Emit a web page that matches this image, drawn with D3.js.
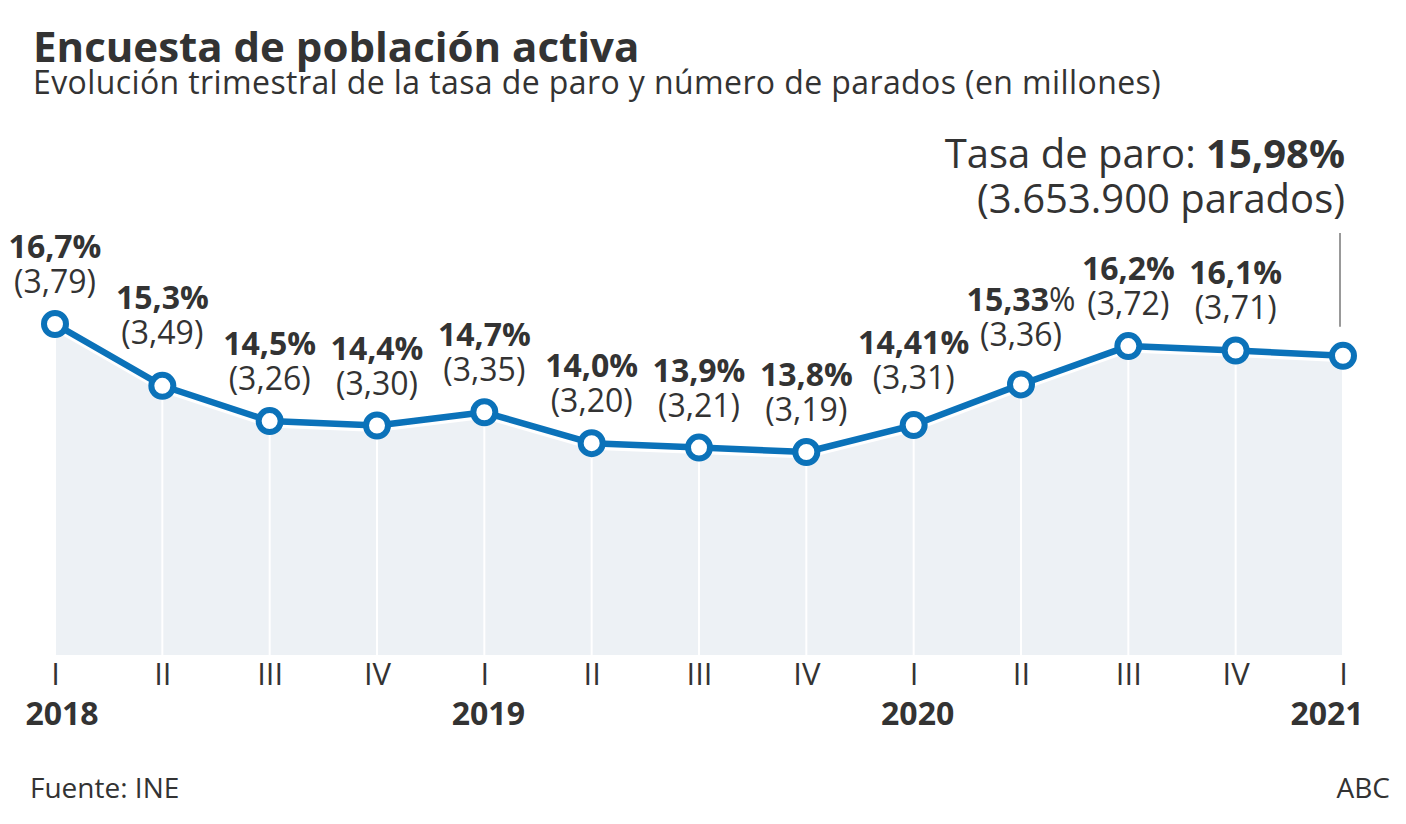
<!DOCTYPE html>
<meta charset="utf-8">
<script src="https://d3js.org/d3.v7.min.js"></script>
<style>
  body { margin: 0; background: #fff; }
  text { font-family: "Open Sans", sans-serif; fill: #333; }
</style>
<div id="chart"></div>
<script>

// quarters shown on the axis
var quarters = ["I", "II", "III", "IV", "I", "II", "III", "IV", "I", "II", "III", "IV", "I"];
var years = ["2018", "", "", "", "2019", "", "", "", "2020", "", "", "", "2021"];

// unemployment rate (%) and unemployed people (millions)
var rate = [16.7, 15.3, 14.5, 14.4, 14.7, 14.0, 13.9, 13.8, 14.41, 15.33, 16.2, 16.1, 15.98];
var rateLabels = ["16,7", "15,3", "14,5", "14,4", "14,7", "14,0", "13,9", "13,8", "14,41", "15,33", "16,2", "16,1", ""];
var paradosLabels = ["(3,79)", "(3,49)", "(3,26)", "(3,30)", "(3,35)", "(3,20)", "(3,21)", "(3,19)", "(3,31)", "(3,36)", "(3,72)", "(3,71)", ""];

var width = 1406, height = 824;

var svg = d3.select("#chart")
  .append("svg")
    .attr("width", width)
    .attr("height", height);

var idx = d3.range(rate.length);

var x = d3.scalePoint()
  .domain(idx)
  .range([55, 1343]);

var y = d3.scaleLinear()
  .domain([9.2, 16.7])
  .range([655, 324]);

// header
svg.append("text")
  .attr("x", 33).attr("y", 62)
  .style("font-size", "42px").style("font-weight", 700)
  .text("Encuesta de población activa");

svg.append("text")
  .attr("x", 33).attr("y", 94)
  .style("font-size", "32px")
  .style("letter-spacing", "0.4px")
  .text("Evolución trimestral de la tasa de paro y número de parados (en millones)");

// area under the line
var area = d3.area()
  .x(function(d) { return x(d); })
  .y0(y.range()[0])
  .y1(function(d) { return y(rate[d]); });

svg.append("path")
  .datum(idx)
  .attr("d", area)
  .style("fill", "#edf1f5");

// white vertical guides
svg.selectAll(".guide")
  .data(idx)
  .enter()
  .append("line")
    .attr("class", "guide")
    .attr("x1", function(d) { return x(d); })
    .attr("x2", function(d) { return x(d); })
    .attr("y1", function(d) { return y(rate[d]); })
    .attr("y2", y.range()[0])
    .style("stroke", "#fff")
    .style("stroke-width", 2);

var line = d3.line()
  .x(function(d) { return x(d); })
  .y(function(d) { return y(rate[d]); });

// soft white edge under the line
svg.append("path")
  .datum(idx)
  .attr("d", line)
  .attr("transform", "translate(0,4)")
  .style("fill", "none")
  .style("stroke", "#fff")
  .style("stroke-width", 5);

svg.append("path")
  .datum(idx)
  .attr("d", line)
  .style("fill", "none")
  .style("stroke", "#0b72b9")
  .style("stroke-width", 6.5)
  .style("stroke-linejoin", "round");

svg.selectAll(".dot")
  .data(idx)
  .enter()
  .append("circle")
    .attr("class", "dot")
    .attr("cx", function(d) { return x(d); })
    .attr("cy", function(d) { return y(rate[d]); })
    .attr("r", 11)
    .style("fill", "#fff")
    .style("stroke", "#0b72b9")
    .style("stroke-width", 6);

// a few labels are lifted by hand to keep clear of the line
var lift = { 1: 11, 8: 5, 9: 7 };

var labels = svg.selectAll(".lab")
  .data(idx.filter(function(d) { return rateLabels[d] !== ""; }))
  .enter()
  .append("g")
    .attr("class", "lab");

var pct = labels.append("text")
  .attr("x", function(d) { return x(d); })
  .attr("y", function(d) { return y(rate[d]) - 66 - (lift[d] || 0); })
  .attr("text-anchor", "middle")
  .style("font-size", "32px").style("font-weight", 700);
pct.append("tspan").text(function(d) { return rateLabels[d]; });
pct.append("tspan")
  .style("font-weight", function(d) { return d === 9 ? 400 : 700; })
  .text("%");

labels.append("text")
  .attr("x", function(d) { return x(d); })
  .attr("y", function(d) { return y(rate[d]) - 31 - (lift[d] || 0); })
  .attr("text-anchor", "middle")
  .style("font-size", "32px")
  .text(function(d) { return paradosLabels[d]; });

// annotation for the latest quarter
var last = rate.length - 1;
svg.append("line")
  .attr("x1", x(last) - 3).attr("x2", x(last) - 3)
  .attr("y1", 233).attr("y2", y(rate[last]) - 29)
  .style("stroke", "#999")
  .style("stroke-width", 2);

var ann = svg.append("text")
  .attr("x", 1345).attr("y", 168)
  .attr("text-anchor", "end")
  .style("font-size", "40px");
ann.append("tspan").text("Tasa de paro: ");
ann.append("tspan").style("font-weight", 700).text("15,98%");

svg.append("text")
  .attr("x", 1345).attr("y", 213)
  .attr("text-anchor", "end")
  .style("font-size", "40px")
  .text("(3.653.900 parados)");

// axis
var axis = svg.append("g")
  .attr("transform", "translate(0," + y.range()[0] + ")")
  .call(d3.axisBottom(x).tickSize(0).tickPadding(8).tickFormat(function(d) { return quarters[d]; }));
axis.select(".domain").remove();
axis.selectAll("text")
  .style("font-size", "31px")
  .style("font-family", "'Open Sans', sans-serif")
  .style("fill", "#333");

svg.selectAll(".year")
  .data(idx.filter(function(d) { return years[d] !== ""; }))
  .enter()
  .append("text")
    .attr("class", "year")
    .attr("x", function(d) { return Math.min(Math.max(x(d) + 4, 62), 1327); })
    .attr("y", 725)
    .attr("text-anchor", "middle")
    .style("font-size", "32px").style("font-weight", 700)
    .text(function(d) { return years[d]; });

// footer
svg.append("text")
  .attr("x", 30).attr("y", 798)
  .style("font-size", "28px")
  .text("Fuente: INE");

svg.append("text")
  .attr("x", 1390).attr("y", 798)
  .attr("text-anchor", "end")
  .style("font-size", "28px")
  .text("ABC");

</script>
